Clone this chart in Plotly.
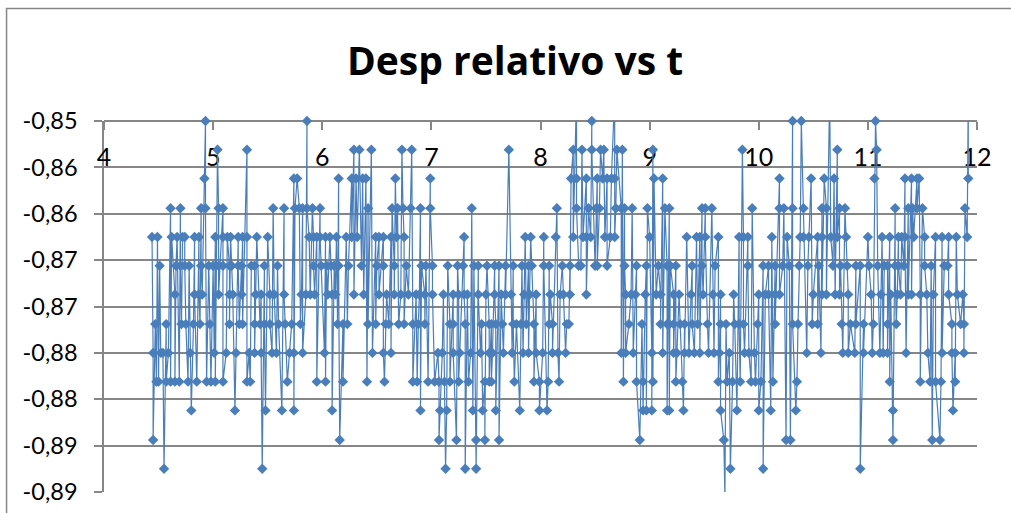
import numpy as np
import plotly.graph_objects as go

title_text = "Desp relativo vs t"
x_ticks = [4, 5, 6, 7, 8, 9, 10, 11, 12]
y_ticks = [-0.85, -0.855, -0.86, -0.865, -0.87, -0.875, -0.88, -0.885, -0.89]
y_tick_labels = ["-0,85", "-0,86", "-0,86", "-0,87", "-0,87", "-0,88", "-0,88", "-0,89", "-0,89"]

# Times (s) for each displacement level
t_m08469 = [8.33, 8.68, 10.65, 11.92]
t_m08500 = [4.93, 5.86, 8.47, 10.31, 10.39, 11.07]
t_m08531 = [5.04, 5.31, 6.29, 6.34, 6.45, 6.73, 6.82, 7.71, 8.30, 8.38, 8.47, 8.55, 8.58, 8.70, 8.75, 9.03, 9.85, 10.72, 11.08]
t_m08562 = [4.92, 5.74, 5.77, 6.15, 6.27, 6.31, 6.37, 6.40, 6.67, 6.99, 8.28, 8.33, 8.42, 8.52, 8.57, 8.61, 8.65, 8.68,
            9.04, 9.12, 10.19, 10.48, 10.60, 10.69, 11.06, 11.34, 11.40, 11.45, 11.47, 11.92]
t_m08594 = [4.61, 4.70, 4.89, 4.93, 5.05, 5.09, 5.55, 5.65, 5.75, 5.79, 5.82, 5.86, 5.91, 5.98, 6.42, 6.64, 6.69, 6.74,
            6.81, 6.90, 6.99, 7.37, 8.15, 8.33, 8.44, 8.51, 8.54, 8.69, 8.74, 8.77, 8.84, 8.98, 9.14, 9.18, 9.48, 9.51,
            9.57, 9.94, 10.19, 10.23, 10.31, 10.41, 10.58, 10.62, 10.74, 10.79, 11.25, 11.37, 11.41, 11.45, 11.50, 11.89]
t_m08625 = [4.44, 4.49, 4.62, 4.67, 4.72, 4.74, 4.83, 4.87, 5.02, 5.09, 5.13, 5.16, 5.23, 5.27, 5.31, 5.40, 5.50, 5.88,
            5.92, 5.95, 5.98, 6.03, 6.07, 6.13, 6.22, 6.27, 6.32, 6.49, 6.52, 6.56, 6.63, 6.68, 6.75, 7.30, 7.86, 7.91,
            8.03, 8.14, 8.30, 8.39, 8.42, 8.46, 8.59, 8.64, 8.68, 9.00, 9.34, 9.43, 9.46, 9.51, 9.63, 9.82, 9.86, 9.90,
            10.12, 10.26, 10.38, 10.41, 10.46, 10.54, 10.58, 10.66, 10.72, 10.80, 11.00, 11.13, 11.20, 11.28, 11.31,
            11.34, 11.42, 11.52, 11.62, 11.68, 11.74, 11.81, 11.91]
t_m08656 = [4.51, 4.66, 4.70, 4.74, 4.78, 4.89, 4.96, 5.00, 5.05, 5.09, 5.15, 5.17, 5.23, 5.26, 5.35, 5.38, 5.47, 5.59,
            5.92, 5.99, 6.04, 6.08, 6.11, 6.15, 6.24, 6.36, 6.50, 6.56, 6.66, 6.77, 6.91, 6.95, 7.01, 7.15, 7.24, 7.29,
            7.39, 7.43, 7.51, 7.58, 7.62, 7.68, 7.75, 7.83, 7.89, 7.92, 8.03, 8.08, 8.20, 8.27, 8.35, 8.37, 8.50, 8.52,
            8.61, 8.77, 8.88, 8.97, 9.08, 9.16, 9.19, 9.24, 9.39, 9.48, 9.60, 9.90, 10.04, 10.09, 10.15, 10.22, 10.28,
            10.37, 10.45, 10.55, 10.68, 10.75, 10.81, 10.89, 10.93, 11.01, 11.09, 11.15, 11.18, 11.25, 11.28, 11.33,
            11.52, 11.58, 11.70, 11.73]
t_m08687 = [4.65, 4.83, 4.87, 4.90, 5.05, 5.15, 5.18, 5.26, 5.39, 5.44, 5.52, 5.56, 5.65, 5.81, 5.85, 5.89, 5.93, 6.05,
            6.09, 6.12, 6.29, 6.38, 6.52, 6.59, 6.66, 6.72, 6.79, 6.86, 6.89, 6.94, 7.01, 7.11, 7.20, 7.25, 7.30, 7.33,
            7.43, 7.50, 7.58, 7.64, 7.68, 7.73, 7.85, 7.90, 7.96, 8.09, 8.18, 8.21, 8.27, 8.42, 8.78, 8.83, 8.87, 8.96,
            9.06, 9.10, 9.22, 9.27, 9.38, 9.49, 9.58, 9.65, 9.77, 10.00, 10.06, 10.09, 10.15, 10.19, 10.50, 10.58, 10.62,
            10.70, 10.74, 10.82, 11.03, 11.12, 11.21, 11.27, 11.30, 11.37, 11.40, 11.48, 11.54, 11.60, 11.74, 11.82, 11.87]
t_m08719 = [4.47, 4.57, 4.71, 4.75, 4.82, 4.88, 4.97, 5.15, 5.24, 5.27, 5.38, 5.43, 5.47, 5.52, 5.60, 5.66, 5.72, 5.80,
            6.14, 6.19, 6.23, 6.42, 6.49, 6.58, 6.61, 6.70, 6.75, 6.83, 6.88, 6.94, 7.17, 7.20, 7.31, 7.46, 7.53, 7.55,
            7.59, 7.65, 7.75, 7.78, 7.82, 7.87, 7.94, 8.08, 8.11, 8.24, 8.26, 8.81, 8.93, 9.10, 9.16, 9.18, 9.22, 9.28,
            9.32, 9.39, 9.44, 9.53, 9.65, 9.70, 9.78, 9.82, 9.86, 9.99, 10.15, 10.31, 10.36, 10.49, 10.54, 10.76, 10.84,
            10.89, 10.96, 11.05, 11.18, 11.26, 11.77, 11.85, 11.88]
t_m08750 = [4.45, 4.52, 4.54, 4.59, 4.79, 5.01, 5.12, 5.21, 5.33, 5.38, 5.44, 5.54, 5.58, 5.70, 5.74, 5.82, 6.02, 6.46,
            6.56, 6.63, 7.06, 7.10, 7.20, 7.26, 7.36, 7.45, 7.53, 7.56, 7.66, 7.74, 7.84, 7.89, 7.96, 8.02, 8.11, 8.16,
            8.23, 8.74, 8.78, 8.85, 9.02, 9.12, 9.22, 9.25, 9.32, 9.36, 9.41, 9.46, 9.54, 9.59, 9.64, 9.73, 9.87, 9.91,
            9.96, 10.44, 10.57, 10.77, 10.82, 10.88, 10.96, 11.04, 11.11, 11.14, 11.18, 11.35, 11.55, 11.68, 11.77, 11.80,
            11.88]
t_m08781 = [4.48, 4.50, 4.57, 4.61, 4.65, 4.69, 4.77, 4.85, 4.94, 4.98, 5.02, 5.09, 5.31, 5.34, 5.68, 5.95, 6.03, 6.19,
            6.41, 6.57, 6.83, 6.87, 6.97, 7.03, 7.07, 7.12, 7.17, 7.25, 7.34, 7.49, 7.53, 7.55, 7.76, 7.94, 7.99, 8.07,
            8.17, 8.76, 8.88, 8.94, 9.03, 9.24, 9.30, 9.63, 9.71, 9.76, 9.83, 9.93, 9.97, 10.02, 10.13, 10.35, 11.20,
            11.48, 11.57, 11.62, 11.67, 11.80]
t_m08812 = [4.80, 5.20, 5.48, 5.63, 5.74, 6.09, 6.90, 7.08, 7.14, 7.38, 7.47, 7.59, 7.81, 7.99, 8.06, 8.94, 8.97, 9.02,
            9.16, 9.18, 9.31, 9.65, 9.80, 10.00, 10.11, 10.34, 11.23, 11.78]
t_m08844 = [4.45, 6.16, 7.07, 7.23, 7.41, 7.49, 7.62, 8.91, 9.68, 10.25, 10.29, 11.23, 11.59, 11.66]
t_m08875 = [4.55, 5.45, 7.13, 7.31, 7.41, 9.74, 10.04, 10.93]
t_m08906 = [9.69]

series_t = np.array(t_m08469 + t_m08500 + t_m08531 + t_m08562 + t_m08594 + t_m08625 + t_m08656 + t_m08687 + t_m08719
                    + t_m08750 + t_m08781 + t_m08812 + t_m08844 + t_m08875 + t_m08906)
series_y = np.concatenate([
    np.full(len(t_m08469), -0.8469), np.full(len(t_m08500), -0.85), np.full(len(t_m08531), -0.8531),
    np.full(len(t_m08562), -0.8562), np.full(len(t_m08594), -0.8594), np.full(len(t_m08625), -0.8625),
    np.full(len(t_m08656), -0.8656), np.full(len(t_m08687), -0.8687), np.full(len(t_m08719), -0.8719),
    np.full(len(t_m08750), -0.875), np.full(len(t_m08781), -0.8781), np.full(len(t_m08812), -0.8812),
    np.full(len(t_m08844), -0.8844), np.full(len(t_m08875), -0.8875), np.full(len(t_m08906), -0.8906),
])
order = np.argsort(series_t, kind="stable")
series_t = series_t[order]
series_y = series_y[order]
visible = (series_y <= -0.85) & (series_y >= -0.89)

GREY = "#868686"
BLUE = "#4A7EBB"
FONT = "Lato, 'Open Sans', sans-serif"
TITLE_FONT = "'Open Sans', Lato, sans-serif"

fig = go.Figure()
fig.add_trace(go.Scatter(x=series_t, y=series_y, mode="lines",
                         line=dict(color=BLUE, width=1.2),
                         cliponaxis=True, hoverinfo="skip", showlegend=False))
fig.add_trace(go.Scatter(x=series_t[visible], y=series_y[visible], mode="markers",
                         marker=dict(symbol="diamond", size=8, color=BLUE, line=dict(width=0)),
                         cliponaxis=False, showlegend=False))

W, H = 1011, 513
L, R, T, B = 104, 977.5, 121, 492
fig.update_layout(
    width=W, height=H,
    margin=dict(l=L, r=W - R, t=T, b=H - B, autoexpand=False),
    paper_bgcolor="white", plot_bgcolor="white",
    showlegend=False,
    font=dict(family=FONT, color="black"),
    title=dict(text="<b>" + title_text + "</b>", font=dict(family=TITLE_FONT, size=39, color="black"),
               xref="container", yref="container", x=515 / W, y=1 - 61 / H,
               xanchor="center", yanchor="middle"),
    xaxis=dict(range=[4, 12], side="bottom", anchor="free", position=1.0,
               tickmode="array", tickvals=x_ticks,
               ticktext=[str(v) for v in x_ticks], showgrid=False, zeroline=False,
               showline=True, linecolor=GREY, linewidth=1.5,
               ticks="outside", ticklen=8, tickwidth=1.5, tickcolor=GREY,
               ticklabelstandoff=6, layer="below traces",
               tickfont=dict(family=FONT, size=25, color="black")),
    yaxis=dict(range=[-0.89, -0.85], tickmode="array", tickvals=y_ticks, ticktext=y_tick_labels,
               showgrid=True, gridcolor=GREY, gridwidth=1.5, zeroline=False,
               showline=True, linecolor=GREY, linewidth=1.5,
               ticks="outside", ticklen=8, tickwidth=1.5, tickcolor=GREY,
               ticklabelstandoff=12, layer="below traces",
               tickfont=dict(family=FONT, size=23.5, color="black")),
    shapes=[dict(type="rect", xref="paper", yref="paper",
                 x0=(6.5 - L) / (R - L), x1=1.2, y0=-0.3, y1=(B - 8.5) / (B - T),
                 line=dict(color=GREY, width=1.5), fillcolor="rgba(0,0,0,0)", layer="below")],
)
fig.write_html("out.html", config={"displayModeBar": False},
               post_script="document.body.style.margin='0';")
